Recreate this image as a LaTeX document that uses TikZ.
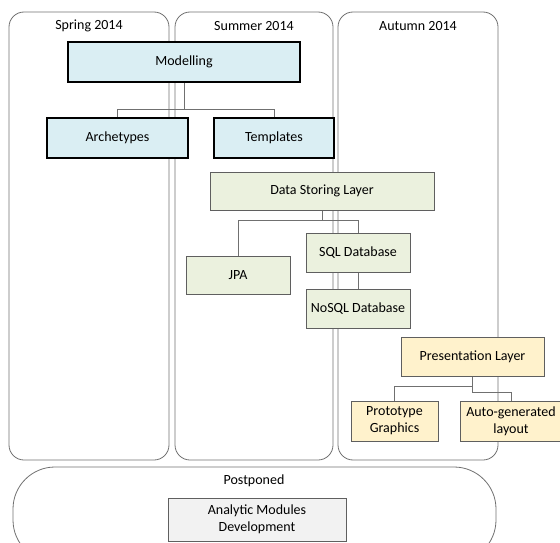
\documentclass[tikz,border=0pt]{standalone}
\usepackage{fontspec}
\setmainfont{Carlito}
\definecolor{lblue}{HTML}{DAEEF3}
\definecolor{lgreen}{HTML}{EBF1DE}
\definecolor{lgold}{HTML}{FFF2CC}
\definecolor{lgray}{HTML}{F2F2F2}
\definecolor{edge}{HTML}{5F5F5F}
\definecolor{frame}{HTML}{707070}

\begin{document}
\begin{tikzpicture}[x=1pt, y=-1pt, align=center, font=\fontsize{14}{17}\selectfont]
\tikzstyle{col} = [draw=frame, line width=0.8pt, rounded corners=15pt, minimum width=160pt, minimum height=448pt, inner sep=0pt]
\tikzstyle{t} = [inner sep=0pt]
\tikzstyle{top} = [draw=black, fill=lblue, line width=2pt, minimum height=40pt, inner sep=0pt]
\tikzstyle{v} = [draw=edge, line width=1pt, minimum height=39pt, inner sep=0pt]
\tikzstyle{e} = [draw=frame, line width=0.8pt]

\useasboundingbox (0,0) rectangle (560,543);

% seasons
\node[col] (spring) at (89, 236) {};
\node[col, minimum width=158pt] (summer) at (254, 236) {};
\node[col] (autumn) at (418, 236) {};
\node[col, rounded corners=42pt, minimum width=483pt, minimum height=95pt] (later) at (254.5, 514.5) {};

\node[t] (tspring) at (89, 26) {Spring 2014};
\node[t] (tsummer) at (254, 26) {Summer 2014};
\node[t] (tautumn) at (418, 26) {Autumn 2014};
\node[t] (tlater) at (254, 481) {Postponed};

% tasks
\node[top, minimum width=232pt] (mod) at (184, 62) {Modelling};
\node[top, minimum width=141pt] (arch) at (117.5, 138) {Archetypes};
\node[top, minimum width=120pt] (tmpl) at (274, 138) {Templates};

\node[v, fill=lgreen, minimum width=224pt, minimum height=38pt] (dsl) at (322, 191) {Data Storing Layer};
\node[v, fill=lgreen, minimum width=104pt, minimum height=38pt] (jpa) at (238, 275) {JPA};
\node[v, fill=lgreen, minimum width=104pt] (sql) at (358, 252.5) {SQL Database};
\node[v, fill=lgreen, minimum width=104pt] (nosql) at (358, 308.5) {NoSQL Database};

\node[v, fill=lgold, minimum width=143pt] (pres) at (472.5, 356.5) {Presentation Layer};
\node[v, fill=lgold, minimum width=87pt, minimum height=40pt] (proto) at (394.5, 421) {Prototype\\Graphics};
\node[v, fill=lgold, minimum width=102pt, minimum height=40pt] (auto) at (511, 421) {Auto-generated\\layout};

\node[v, fill=lgray, minimum width=178pt, minimum height=43pt] (ana) at (257, 519.5) {Analytic Modules\\Development};

\draw[e] (mod.south) -- ++(0,26) -| (arch.north);
\draw[e] (mod.south) -- ++(0,26) -| (tmpl.north);
\draw[e] (dsl.south) -- ++(0,10) -| (jpa.north);
\draw[e] (dsl.south) -- ++(0,10) -| (sql.north);
\draw[e] (sql) to (nosql);
\draw[e] (pres.south) -- ++(0,10) -| (proto.north);
\draw[e] (pres.south) -- ++(0,16) -| (auto.north);
\end{tikzpicture}
\end{document}
